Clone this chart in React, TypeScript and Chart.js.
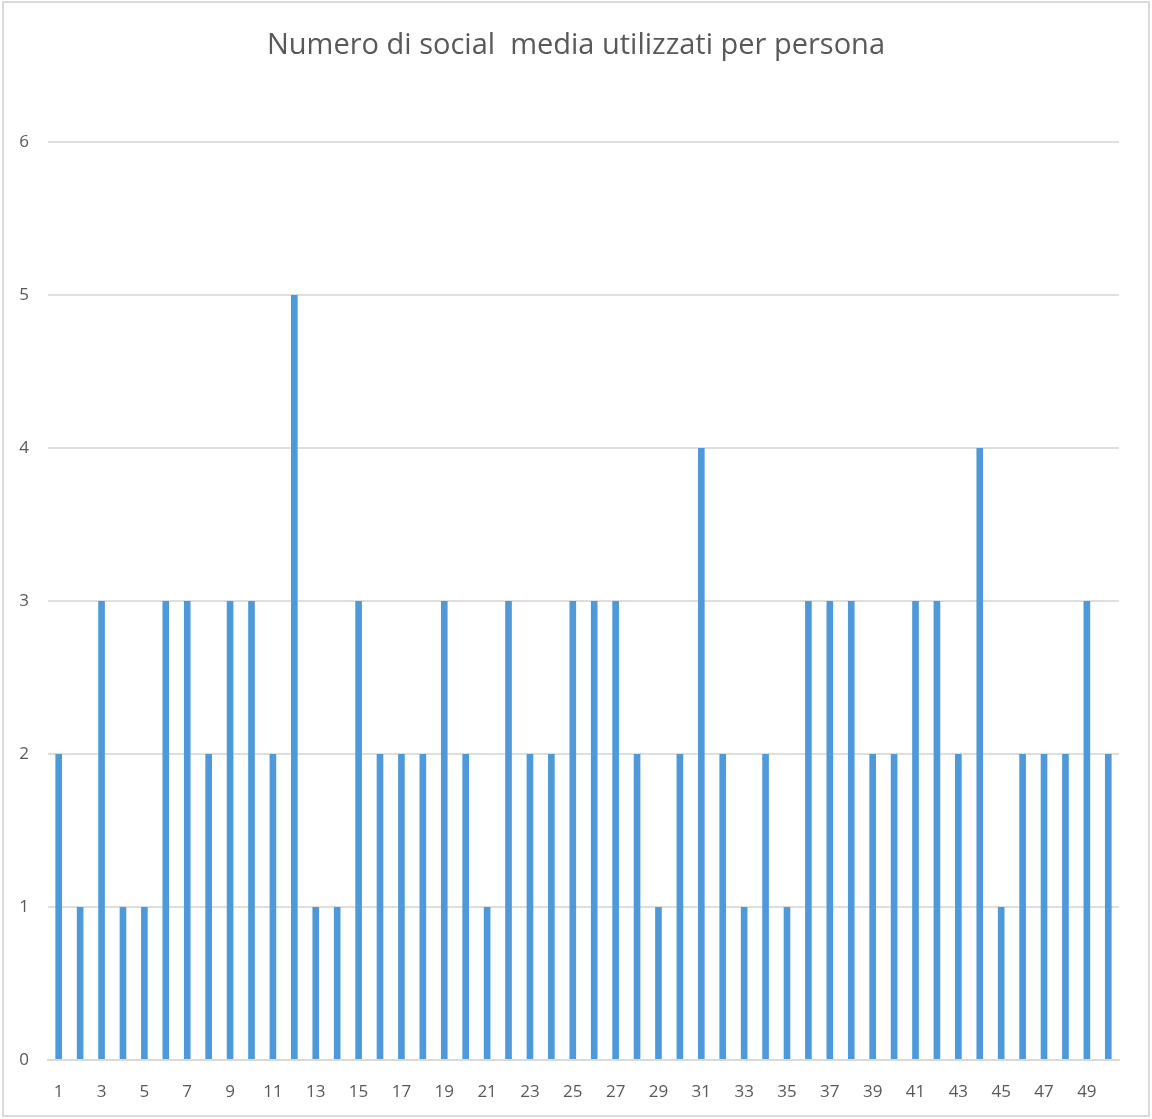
import React, { useEffect, useRef } from "react";
import { Chart, registerables } from "chart.js";

Chart.register(...registerables);

// Persone intervistate (1..50) e numero di social media usati da ciascuna
const persone: string[] = Array.from({ length: 50 }, (_, i) => String(i + 1));
const socialUsati: number[] = [
  2, 1, 3, 1, 1, 3, 3, 2, 3, 3,
  2, 5, 1, 1, 3, 2, 2, 2, 3, 2,
  1, 3, 2, 2, 3, 3, 3, 2, 1, 2,
  4, 2, 1, 2, 1, 3, 3, 3, 2, 2,
  3, 3, 2, 4, 1, 2, 2, 2, 3, 2,
];
const yTicks: number[] = [0, 1, 2, 3, 4, 5, 6];
const titolo = "Numero di social  media utilizzati per persona";

const W = 1152;
const H = 1119;

// White background and the light grey frame around the chart
const framePlugin = {
  id: "frame",
  beforeDraw(chart: Chart) {
    const ctx = chart.ctx;
    ctx.save();
    ctx.fillStyle = "#ffffff";
    ctx.fillRect(0, 0, chart.width, chart.height);
    ctx.strokeStyle = "#d9d9d9";
    ctx.lineWidth = 2;
    ctx.strokeRect(3, 2, chart.width - 6, chart.height - 5);
    ctx.restore();
  },
};

export default function App() {
  const canvasRef = useRef<HTMLCanvasElement | null>(null);

  useEffect(() => {
    if (!canvasRef.current) return;
    const chart = new Chart(canvasRef.current, {
      type: "bar",
      data: {
        labels: persone,
        datasets: [
          {
            data: socialUsati,
            backgroundColor: "#4d99d9",
            borderWidth: 0,
            barPercentage: 1,
            categoryPercentage: 0.31,
          },
        ],
      },
      plugins: [framePlugin],
      options: {
        animation: false,
        responsive: false,
        devicePixelRatio: 1,
        layout: { padding: { top: 0, left: 0, right: 0, bottom: 14 } },
        plugins: {
          legend: { display: false },
          tooltip: { enabled: false },
          title: {
            display: true,
            text: titolo,
            color: "#595959",
            font: { family: "Open Sans", size: 29, weight: "normal", lineHeight: 1.2 },
            padding: { top: 28, bottom: 79.2 },
          },
        },
        scales: {
          x: {
            grid: { display: false },
            border: { display: true, color: "#d9d9d9", width: 2 },
            ticks: {
              autoSkip: false,
              maxRotation: 0,
              minRotation: 0,
              padding: 14,
              color: "#595959",
              font: { family: "Open Sans", size: 17 },
              callback: (_v: any, i: number) => (i % 2 === 0 ? persone[i] : ""),
            },
            afterFit: (scale: any) => {
              scale.height = 45;
            },
          },
          y: {
            min: yTicks[0],
            max: yTicks[yTicks.length - 1],
            grid: { color: "#dedede", lineWidth: 2, drawTicks: false },
            border: { display: false },
            ticks: {
              stepSize: 1,
              padding: 19,
              color: "#595959",
              font: { family: "Open Sans", size: 17 },
            },
            afterFit: (scale: any) => {
              scale.width = 48;
            },
          },
          // empty right-hand margin so the title stays centred on the whole canvas
          margineDestro: {
            type: "linear",
            position: "right",
            grid: { display: false, drawTicks: false },
            border: { display: false },
            ticks: { display: false },
            afterFit: (scale: any) => {
              scale.width = 33;
            },
          },
        },
      },
    });
    return () => chart.destroy();
  }, []);

  return (
    <div style={{ position: "absolute", left: 0, top: 0, width: W, height: H }}>
      <canvas ref={canvasRef} width={W} height={H} style={{ width: W, height: H, display: "block" }} />
    </div>
  );
}
